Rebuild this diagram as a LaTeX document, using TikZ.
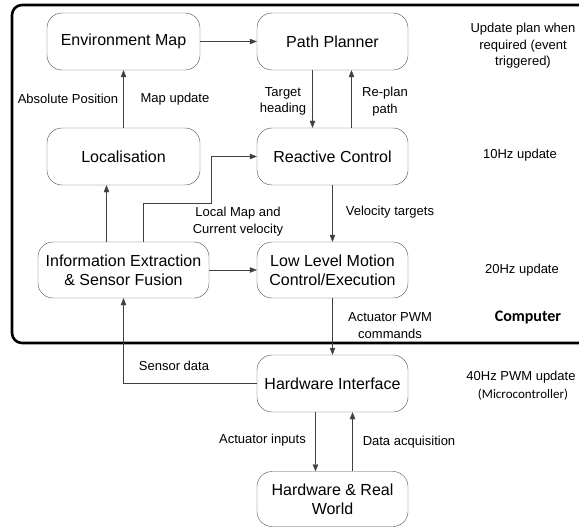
\documentclass[tikz,border=0pt]{standalone}
\usepackage{fontspec}
\setmainfont{Liberation Sans}
\newfontfamily\calibri{Carlito}
\usetikzlibrary{arrows.meta}

\tikzset{
  block/.style={draw=black!70, rounded corners=15pt, minimum width=151pt,
    minimum height=57pt, align=center, inner sep=2pt,
    font=\fontsize{16}{19}\selectfont},
  flow/.style={draw=black!75, -{Triangle[length=7pt,width=5.5pt]}},
  lbl/.style={font=\fontsize{13}{16.5}\selectfont, align=center, inner sep=0pt},
}

\begin{document}
\begin{tikzpicture}[x=1pt, y=-1pt]
  \useasboundingbox (0,0) rectangle (579,527);

  % computer boundary
  \draw[line width=2.6pt, rounded corners=10pt] (579,5) -- (12,5) -- (12,343) -- (579,343);

  % blocks
  \node[block, minimum width=153pt] (env) at (123.5,41.5) {Environment Map};
  \node[block] (plan) at (332.5,41.5) {Path Planner};
  \node[block, minimum width=153pt] (loc) at (123.5,156.5) {Localisation};
  \node[block] (react) at (332.5,156.5) {Reactive Control};
  \node[block, minimum width=171pt, minimum height=56pt] (info) at (123.5,270)
    {Information Extraction\\\& Sensor Fusion};
  \node[block, minimum height=56pt] (low) at (332.5,270)
    {Low Level Motion\\Control/Execution};
  \node[block] (hwi) at (332.5,383.5) {Hardware Interface};
  \node[block, minimum height=55pt] (hrw) at (332.5,499) {Hardware \& Real\\World};

  \coordinate (fork) at (211,203);

  % connections
  \draw[flow] (env) -- (plan);
  \draw[flow] (loc) -- (env);
  \draw[flow] ([xshift=-20pt]plan.south) -- ([xshift=-20pt]react.north);
  \draw[flow] ([xshift=19pt]react.north) -- ([xshift=19pt]plan.south);
  \draw[flow] ([xshift=-17pt]info.north) -- ([xshift=-17pt]loc.south);
  \draw[flow] ([xshift=20pt]info.north) |- (fork) |- (react.west);
  \draw[flow] (info) -- (low);
  \draw[flow] (react) -- (low);
  \draw[flow] (low) -- (hwi);
  \draw[flow] (hwi.west) -| (info.south);
  \draw[flow] ([xshift=-17pt]hwi.south) -- ([xshift=-17pt]hrw.north);
  \draw[flow] ([xshift=20pt]hrw.north) -- ([xshift=20pt]hwi.south);

  % connection labels
  \node[lbl] (abspos) at (68,99) {Absolute Position};
  \node[lbl] (mapupd) at (175,99) {Map update};
  \node[lbl] (tgthead) at (283,101.5) {Target\\heading};
  \node[lbl] (replan) at (385,101.5) {Re-plan\\path};
  \node[lbl] (localmap) at (238,221.5) {Local Map and\\Current velocity};
  \node[lbl] (veltgt) at (390,212) {Velocity targets};
  \node[lbl] (pwmcmd) at (390,325.5) {Actuator PWM\\commands};
  \node[lbl] (sensdata) at (174,366) {Sensor data};
  \node[lbl] (actin) at (262.5,440) {Actuator inputs};
  \node[lbl] (dataacq) at (409,442) {Data acquisition};

  % update rates
  \node[lbl] (evtrate) at (523,46) {Update plan when\\required (event\\triggered)};
  \node[lbl] (rate10) at (520,155) {10Hz update};
  \node[lbl] (rate20) at (522,270) {20Hz update};
  \node[font=\calibri\bfseries\fontsize{16}{19}\selectfont, inner sep=0pt] (comp)
    at (528,318) {Computer};
  \node[lbl] (rate40) at (521,377) {40Hz PWM update};
  \node[font=\calibri\fontsize{13}{16}\selectfont, inner sep=0pt] (mcu)
    at (523,395) {(Microcontroller)};
\end{tikzpicture}
\end{document}
